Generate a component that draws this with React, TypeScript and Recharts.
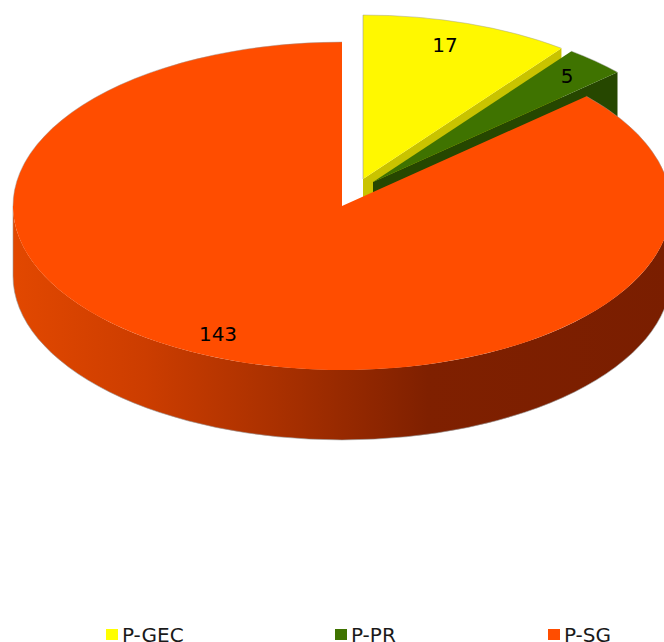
import React from 'react';
import { PieChart, Pie, Legend } from 'recharts';

const categories = ['P-GEC', 'P-PR', 'P-SG'];
const values = [17, 5, 143];
const topColors = ['#FFF800', '#3F7300', '#FF4D00'];
const legendColors = ['#FFFF00', '#3F7300', '#FF4D00'];
const faceColors = ['#C9C300', '#264700', '#7A1E00'];

// how far each slice is pulled out of the pie
const sliceOffsets = [
  { dx: 21, dy: -27 },
  { dx: 31, dy: -24 },
  { dx: 0, dy: 0 }
];
const labelOffsets = [
  { dx: 82, dy: -134 },
  { dx: 194, dy: -106 },
  { dx: -124, dy: 128 }
];
const legendTextLeft = [122, 351, 564];

const CX = 342;
const CY = 206;
const RADIUS = 329;
const TILT = 164 / 329;
const DEPTH = 70;

const chartData = categories.map((name, i) => ({ name, value: values[i], fill: topColors[i] }));

function Slice3D(props: any) {
  const { cx, cy, outerRadius, startAngle, endAngle, name, fill } = props;
  const i = categories.indexOf(name);
  const ox = cx + sliceOffsets[i].dx;
  const oy = cy + sliceOffsets[i].dy;
  const rx = outerRadius;
  const ry = outerRadius * TILT;

  const px = (a: number) => ox + rx * Math.cos((a * Math.PI) / 180);
  const py = (a: number) => oy - ry * Math.sin((a * Math.PI) / 180);
  const arc = (a: number, b: number, sweep: number, drop = 0) => {
    const large = Math.abs(a - b) > 180 ? 1 : 0;
    return `A ${rx} ${ry} 0 ${large} ${sweep} ${px(b)} ${py(b) + drop}`;
  };

  const top = `M ${ox} ${oy} L ${px(startAngle)} ${py(startAngle)} ${arc(startAngle, endAngle, 1)} Z`;
  const face =
    `M ${ox} ${oy} L ${px(endAngle)} ${py(endAngle)} L ${px(endAngle)} ${py(endAngle) + DEPTH} ` +
    `L ${ox} ${oy + DEPTH} Z`;

  // only the front half of the rim can be seen
  const frontFrom = Math.min(startAngle, 0);
  const frontTo = Math.max(endAngle, -180);
  const hasFront = frontFrom > frontTo;

  const rim = hasFront
    ? `M ${px(startAngle)} ${py(startAngle)} ${arc(startAngle, frontFrom, 1)} ` +
      `M ${px(frontTo)} ${py(frontTo)} ${arc(frontTo, endAngle, 1)}`
    : `M ${px(startAngle)} ${py(startAngle)} ${arc(startAngle, endAngle, 1)}`;

  return (
    <g>
      <defs>
        <linearGradient id="rimGradient" gradientUnits="userSpaceOnUse" x1={13} y1={0} x2={672} y2={0}>
          <stop offset="0" stopColor="#E24800" />
          <stop offset="0.2" stopColor="#CC3D00" />
          <stop offset="0.42" stopColor="#A62F00" />
          <stop offset="0.63" stopColor="#7F2000" />
          <stop offset="1" stopColor="#7A1E00" />
        </linearGradient>
      </defs>
      <path d={face} fill={faceColors[i]} />
      {hasFront && (
        <>
          <path
            d={
              `M ${px(frontFrom)} ${py(frontFrom)} ${arc(frontFrom, frontTo, 1)} ` +
              `L ${px(frontTo)} ${py(frontTo) + DEPTH} ${arc(frontTo, frontFrom, 0, DEPTH)} Z`
            }
            fill="url(#rimGradient)"
          />
          <path
            d={
              `M ${px(frontTo)} ${py(frontTo)} L ${px(frontTo)} ${py(frontTo) + DEPTH} ` +
              `${arc(frontTo, frontFrom, 0, DEPTH)} L ${px(frontFrom)} ${py(frontFrom)}`
            }
            fill="none"
            stroke="#999"
            strokeOpacity={0.6}
            strokeWidth={1}
          />
        </>
      )}
      <path d={top} fill={fill} />
      <path d={rim} fill="none" stroke="#999" strokeOpacity={0.45} strokeWidth={1} />
      {i === 0 && (
        <line x1={ox} y1={py(startAngle)} x2={ox} y2={oy} stroke="#999" strokeOpacity={0.6} strokeWidth={1} />
      )}
    </g>
  );
}

function SliceLabel(props: any) {
  const i = categories.indexOf(props.name);
  return (
    <text
      x={CX + labelOffsets[i].dx + sliceOffsets[i].dx}
      y={CY + labelOffsets[i].dy + sliceOffsets[i].dy}
      textAnchor="middle"
      dominantBaseline="central"
      fontFamily="'DejaVu Sans', sans-serif"
      fontSize={20}
      fill="#000"
    >
      {props.value}
    </text>
  );
}

function ChartLegend() {
  return (
    <div style={{ position: 'relative', width: 664, height: 642, fontFamily: "'DejaVu Sans', sans-serif" }}>
      {categories.map((name, i) => (
        <React.Fragment key={name}>
          <div
            style={{
              position: 'absolute',
              left: legendTextLeft[i] - 16,
              top: 628.5,
              width: 11.5,
              height: 11.5,
              background: legendColors[i]
            }}
          />
          <div
            style={{
              position: 'absolute',
              left: legendTextLeft[i],
              top: 627.5,
              fontSize: 20,
              lineHeight: '14px',
              color: '#1a1a1a',
              whiteSpace: 'nowrap'
            }}
          >
            {name}
          </div>
        </React.Fragment>
      ))}
    </div>
  );
}

export default function App() {
  return (
    <div style={{ position: 'absolute', left: 0, top: 0, width: 664, height: 642, overflow: 'hidden' }}>
      <PieChart width={664} height={642} margin={{ top: 0, right: 0, bottom: 0, left: 0 }}>
        <Pie
          data={chartData}
          dataKey="value"
          nameKey="name"
          cx={CX}
          cy={CY}
          outerRadius={RADIUS}
          startAngle={90}
          endAngle={-270}
          stroke="none"
          shape={Slice3D}
          label={SliceLabel}
          labelLine={false}
          isAnimationActive={false}
        />
        <Legend
          content={<ChartLegend />}
          wrapperStyle={{ left: 0, top: 0, width: 664, height: 642, bottom: 'auto', pointerEvents: 'none' }}
        />
      </PieChart>
    </div>
  );
}
